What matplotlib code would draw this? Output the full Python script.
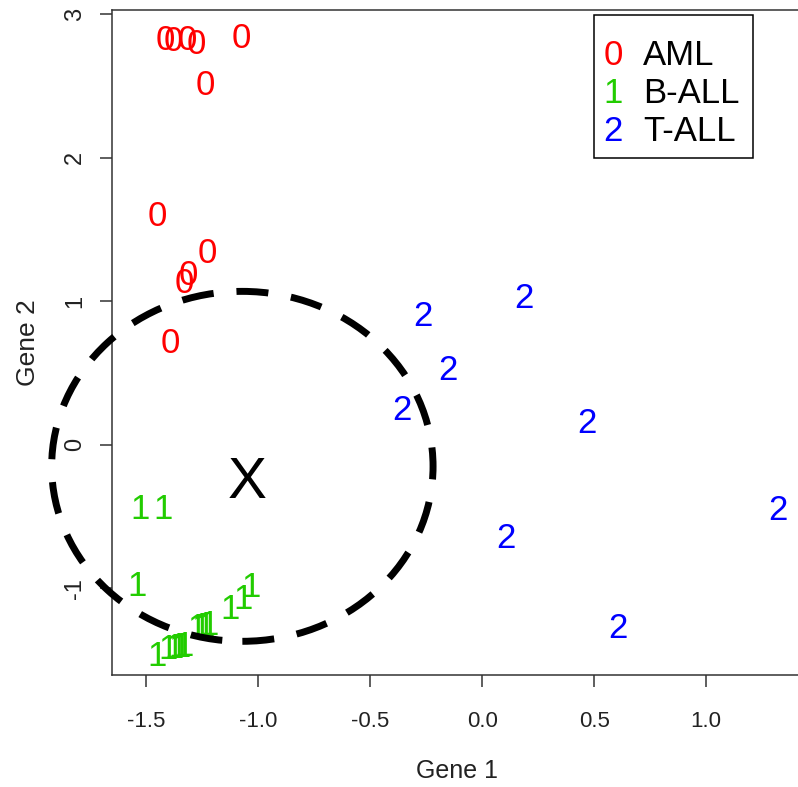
import matplotlib
matplotlib.use("Agg")
import matplotlib.pyplot as plt
from matplotlib.patches import Ellipse, Rectangle

plt.rcParams['font.family'] = ['Liberation Sans', 'DejaVu Sans']

# class 0: AML
aml_x = [-1.415, -1.379, -1.317, -1.277, -1.076, -1.237, -1.451, -1.228, -1.313, -1.330, -1.393]
aml_y = [2.843, 2.836, 2.843, 2.815, 2.857, 2.529, 1.617, 1.358, 1.204, 1.148, 0.730]

# class 1: B-ALL
ball_x = [-1.527, -1.424, -1.542, -1.451, -1.402, -1.375, -1.359, -1.344, -1.328,
          -1.272, -1.254, -1.237, -1.219, -1.125, -1.067, -1.031]
ball_y = [-0.427, -0.427, -0.964, -1.452, -1.403, -1.396, -1.393, -1.390, -1.386,
          -1.254, -1.247, -1.240, -1.233, -1.128, -1.058, -0.974]

# class 2: T-ALL
tall_x = [-0.263, 0.188, -0.152, -0.357, 0.469, 1.321, 0.107, 0.607]
tall_y = [0.918, 1.044, 0.542, 0.263, 0.172, -0.434, -0.630, -1.257]

# query point and its neighbourhood
query_x, query_y = -1.050, -0.225
hood_cx, hood_cy = -1.070, -0.151
hood_w, hood_h = 1.702, 2.440

classes = [("0", "AML", "#ff0000", aml_x, aml_y),
           ("1", "B-ALL", "#22cc00", ball_x, ball_y),
           ("2", "T-ALL", "#0000ff", tall_x, tall_y)]

xticks = [-1.5, -1.0, -0.5, 0.0, 0.5, 1.0]
yticks = [-1, 0, 1, 2, 3]

fig = plt.figure(figsize=(7.98, 7.87), dpi=100)
ax = fig.add_axes([0.14, 0.1423, 0.866, 0.845])
ax.set_xlim(-1.653, 1.431)
ax.set_ylim(-1.606, 3.031)

for sym, name, col, xs, ys in classes:
    for x, y in zip(xs, ys):
        ax.text(x, y, sym, color=col, fontsize=25, ha='center', va='center_baseline')

ax.text(query_x, query_y, "X", color='black', fontsize=42, ha='center', va='center_baseline')

ring = Ellipse((hood_cx, hood_cy), hood_w, hood_h, fill=False, edgecolor='black',
               linewidth=5, linestyle=(0, (4.6, 3.3)), clip_on=False, zorder=5)
ring.set_capstyle('butt')
ax.add_patch(ring)

for s in ax.spines.values():
    s.set_linewidth(1.1)
    s.set_color('#333333')

ax.set_xticks(xticks)
ax.set_xticklabels(["%.1f" % t for t in xticks])
ax.set_yticks(yticks)
ax.set_yticklabels([str(t) for t in yticks], rotation=90, va='center')
ax.tick_params(axis='x', length=8.6, width=1.1, color='#333333', pad=17, labelsize=16, labelcolor='#222222')
ax.tick_params(axis='y', length=8.6, width=1.1, color='#333333', pad=10, labelsize=17, labelcolor='#222222')

ax.set_xlabel("Gene 1", fontsize=18, color='#222222', labelpad=20)
ax.set_ylabel("Gene 2", fontsize=19, color='#222222', labelpad=17)

# legend box
fig.patches.append(Rectangle((0.7444, 0.7992), 0.1992, 0.1817, transform=fig.transFigure,
                             fill=False, edgecolor='black', linewidth=1.1))
for i, (sym, name, col, xs, ys) in enumerate(classes):
    ry = 0.934 - i * 0.0485
    fig.text(0.768, ry, sym, color=col, fontsize=25, ha='center', va='center_baseline')
    fig.text(0.806, ry, name, color='black', fontsize=25, ha='left', va='center_baseline')

fig.savefig("out.png", dpi=100)
